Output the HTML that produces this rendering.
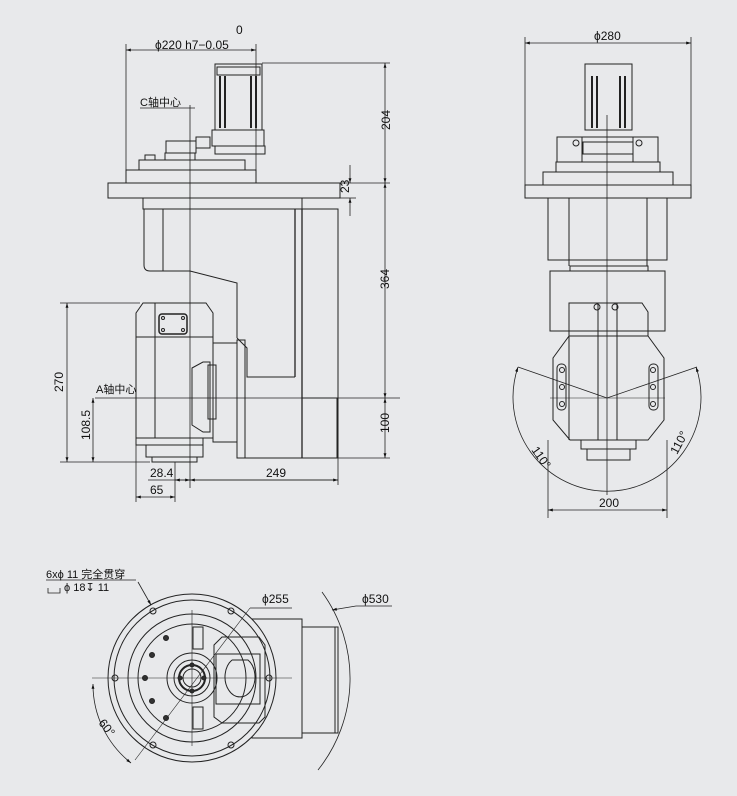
<!DOCTYPE html>
<html><head><meta charset="utf-8"><style>
html,body{margin:0;padding:0;background:#e8e9eb;}
svg{display:block;}
text{font-family:"Liberation Sans","Noto Sans CJK SC",sans-serif;fill:#111;}
</style></head><body>
<svg width="737" height="796" viewBox="0 0 737 796" xmlns="http://www.w3.org/2000/svg">
<defs>
<marker id="a" viewBox="0 0 10 10" refX="10" refY="5" markerWidth="8" markerHeight="6" orient="auto-start-reverse"><path d="M0,2 L10,5 L0,8 z" fill="#111"/></marker>
</defs>
<rect width="737" height="796" fill="#e8e9eb"/>
<g fill="none" stroke="#222" stroke-width="1">
<!-- ===== LEFT VIEW ===== -->
<line x1="126" y1="44" x2="126" y2="183" stroke-width="0.8"/>
<line x1="256" y1="44" x2="256" y2="183" stroke-width="0.8"/>
<line x1="126" y1="50" x2="256" y2="50" marker-start="url(#a)" marker-end="url(#a)" stroke-width="0.8"/>
<rect x="215" y="64" width="47" height="66"/>
<rect x="217" y="67" width="43" height="8"/>
<line x1="220" y1="76" x2="220" y2="128" stroke-width="2"/>
<line x1="225" y1="76" x2="225" y2="128" stroke-width="2"/>
<line x1="251" y1="76" x2="251" y2="128" stroke-width="2"/>
<line x1="256" y1="76" x2="256" y2="128" stroke-width="2"/>
<rect x="212" y="130" width="52" height="16"/>
<rect x="215" y="146" width="50" height="8"/>
<rect x="196" y="137" width="14" height="11"/>
<rect x="166" y="141" width="30" height="12"/>
<rect x="139" y="160" width="106" height="10"/>
<rect x="145" y="155" width="10" height="5"/>
<rect x="165" y="153" width="30" height="7"/>
<line x1="262" y1="63" x2="390" y2="63" stroke-width="0.8"/>
<line x1="140" y1="108" x2="195" y2="108" stroke-width="0.8"/>
<line x1="190" y1="105" x2="190" y2="488" stroke-width="0.8"/>
<rect x="126" y="170" width="130" height="13"/>
<rect x="108" y="183" width="232" height="15"/>
<line x1="340" y1="183" x2="390" y2="183" stroke-width="0.8"/>
<line x1="340" y1="198" x2="356" y2="198" stroke-width="0.8"/>
<line x1="385" y1="63" x2="385" y2="183" marker-start="url(#a)" marker-end="url(#a)" stroke-width="0.8"/>
<line x1="350" y1="165" x2="350" y2="183" marker-end="url(#a)" stroke-width="0.8"/>
<line x1="350" y1="216" x2="350" y2="198" marker-end="url(#a)" stroke-width="0.8"/>
<rect x="143" y="198" width="159" height="11"/>
<path d="M144,209 V265 Q144,271 150,271 H190 L237,283 V338"/>
<line x1="163" y1="209" x2="163" y2="271"/>
<path d="M237,338 L247,348 V377 H295"/>
<line x1="295" y1="209" x2="295" y2="377" stroke-width="1.3"/>
<line x1="302" y1="209" x2="302" y2="458" stroke-width="1.3"/>
<path d="M302,209 H338 V458"/>
<rect x="302" y="398" width="35" height="60"/>
<path d="M136,313 L143,303 H206 L213,313 V438 H136 Z"/>
<line x1="136" y1="337" x2="213" y2="337"/>
<line x1="155" y1="303" x2="155" y2="438"/>
<rect x="159" y="314" width="28" height="20" rx="3" stroke-width="1.5"/>
<circle cx="163" cy="318" r="1.5"/><circle cx="183" cy="318" r="1.5"/><circle cx="163" cy="330" r="1.5"/><circle cx="183" cy="330" r="1.5"/>
<rect x="136" y="438" width="67" height="7"/>
<rect x="146" y="445" width="57" height="12"/>
<rect x="152" y="457" width="45" height="5"/>
<rect x="213" y="343" width="24" height="99"/>
<rect x="237" y="340" width="8" height="118"/>
<path d="M192,368 L203,362 H210 V432 H203 L192,425 Z"/>
<rect x="208" y="365" width="8" height="54"/>
<line x1="245" y1="458" x2="338" y2="458"/>
<line x1="60" y1="303" x2="140" y2="303" stroke-width="0.8"/>
<line x1="60" y1="462" x2="150" y2="462" stroke-width="0.8"/>
<line x1="67" y1="303" x2="67" y2="462" marker-start="url(#a)" marker-end="url(#a)" stroke-width="0.8"/>
<line x1="95" y1="398" x2="400" y2="398" stroke-width="0.8"/>
<line x1="93" y1="398" x2="93" y2="462" marker-start="url(#a)" marker-end="url(#a)" stroke-width="0.8"/>
<line x1="385" y1="183" x2="385" y2="398" marker-start="url(#a)" marker-end="url(#a)" stroke-width="0.8"/>
<line x1="385" y1="398" x2="385" y2="458" marker-start="url(#a)" marker-end="url(#a)" stroke-width="0.8"/>
<line x1="338" y1="458" x2="390" y2="458" stroke-width="0.8"/>
<line x1="136" y1="445" x2="136" y2="502" stroke-width="0.8"/>
<line x1="175" y1="462" x2="175" y2="502" stroke-width="0.8"/>
<line x1="338" y1="458" x2="338" y2="485" stroke-width="0.8"/>
<line x1="148" y1="480" x2="338" y2="480" stroke-width="0.8"/>
<line x1="175" y1="480" x2="190" y2="480" marker-start="url(#a)" marker-end="url(#a)" stroke-width="0.8"/>
<line x1="190" y1="480" x2="338" y2="480" marker-start="url(#a)" marker-end="url(#a)" stroke-width="0.8"/>
<line x1="136" y1="497" x2="175" y2="497" marker-start="url(#a)" marker-end="url(#a)" stroke-width="0.8"/>

<!-- ===== RIGHT VIEW ===== -->
<line x1="525" y1="37" x2="525" y2="198" stroke-width="0.8"/>
<line x1="691" y1="37" x2="691" y2="198" stroke-width="0.8"/>
<line x1="525" y1="43" x2="691" y2="43" marker-start="url(#a)" marker-end="url(#a)" stroke-width="0.8"/>
<rect x="585" y="64" width="47" height="66"/>
<line x1="592" y1="76" x2="592" y2="128" stroke-width="2"/>
<line x1="597" y1="76" x2="597" y2="128" stroke-width="2"/>
<line x1="620" y1="76" x2="620" y2="128" stroke-width="2"/>
<line x1="625" y1="76" x2="625" y2="128" stroke-width="2"/>
<rect x="557" y="137" width="101" height="25"/>
<rect x="557" y="137" width="25" height="25"/><rect x="633" y="137" width="25" height="25"/>
<rect x="583" y="142" width="50" height="12"/>
<circle cx="576" cy="143" r="3"/><circle cx="639" cy="143" r="3"/>
<rect x="556" y="162" width="104" height="10"/>
<rect x="543" y="172" width="130" height="13"/>
<rect x="525" y="185" width="166" height="13"/>
<rect x="548" y="198" width="119" height="62"/>
<line x1="569" y1="198" x2="569" y2="266"/>
<line x1="647" y1="198" x2="647" y2="266"/>
<rect x="570" y="266" width="78" height="5"/>
<rect x="550" y="271" width="115" height="60"/>
<path d="M569,303 L574,303 L576,303 H642 L648,312 V336 L664,358 V420 L648,440 H570 L553,420 V358 L569,336 Z"/>
<line x1="569" y1="303" x2="569" y2="440"/>
<line x1="569" y1="336" x2="648" y2="336"/>
<line x1="598" y1="303" x2="598" y2="440"/>
<line x1="617" y1="303" x2="617" y2="440"/>
<circle cx="597" cy="307" r="3"/><circle cx="615" cy="307" r="3"/>
<rect x="557" y="364" width="9" height="46" rx="4"/>
<rect x="649" y="364" width="9" height="46" rx="4"/>
<circle cx="562" cy="370" r="2.5"/><circle cx="562" cy="387" r="2.5"/><circle cx="562" cy="404" r="2.5"/>
<circle cx="653" cy="370" r="2.5"/><circle cx="653" cy="387" r="2.5"/><circle cx="653" cy="404" r="2.5"/>
<rect x="581" y="440" width="55" height="9"/>
<rect x="587" y="449" width="43" height="11"/>
<line x1="607" y1="115" x2="607" y2="495" stroke-width="0.8"/>
<line x1="550" y1="398" x2="665" y2="398" stroke-width="0.6"/>
<line x1="518" y1="367" x2="607" y2="398" stroke-width="0.8"/>
<line x1="697" y1="367" x2="607" y2="398" stroke-width="0.8"/>
<path d="M518,367 A94,94 0 1,0 696,367" marker-start="url(#a)" marker-end="url(#a)" stroke-width="0.8"/>
<line x1="548" y1="440" x2="548" y2="518" stroke-width="0.8"/>
<line x1="667" y1="440" x2="667" y2="518" stroke-width="0.8"/>
<line x1="548" y1="510" x2="667" y2="510" marker-start="url(#a)" marker-end="url(#a)" stroke-width="0.8"/>

<!-- ===== BOTTOM VIEW ===== -->
<rect x="252" y="619" width="50" height="119"/>
<rect x="302" y="627" width="36" height="106"/>
<line x1="335" y1="627" x2="335" y2="733"/>
<circle cx="192" cy="678" r="84" fill="#e8e9eb"/>
<circle cx="192" cy="678" r="78"/>
<circle cx="192" cy="678" r="64"/>
<circle cx="192" cy="678" r="54"/>
<circle cx="192" cy="678" r="25"/>
<circle cx="192" cy="678" r="18"/>
<circle cx="192" cy="678" r="13" stroke-width="2"/>
<circle cx="192" cy="678" r="9"/>
<circle cx="115" cy="678" r="3"/><circle cx="269" cy="678" r="3"/>
<circle cx="153" cy="611" r="3"/><circle cx="231" cy="611" r="3"/>
<circle cx="153" cy="745" r="3"/><circle cx="231" cy="745" r="3"/>
<g fill="#333">
<circle cx="145" cy="678" r="2.5"/><circle cx="166" cy="638" r="2.5"/><circle cx="166" cy="718" r="2.5"/>
<circle cx="152" cy="655" r="2.5"/><circle cx="152" cy="701" r="2.5"/>
<circle cx="192" cy="665" r="2"/><circle cx="192" cy="691" r="2"/><circle cx="180" cy="678" r="2"/><circle cx="204" cy="678" r="2"/>
</g>
<path d="M214,645 L222,637 H259 L265,645 V717 L259,723 H222 L214,717 Z"/>
<rect x="216" y="654" width="44" height="50"/>
<path d="M232,660 H248 A15,20 0 1,1 232,660" />
<rect x="193" y="627" width="10" height="22"/><rect x="193" y="707" width="10" height="22"/>
<line x1="92" y1="678" x2="292" y2="678" stroke-width="0.6"/>
<line x1="192" y1="610" x2="192" y2="746" stroke-width="0.6"/>
<line x1="135" y1="760" x2="250" y2="608" stroke-width="0.6"/>
<path d="M93,684 A100,100 0 0,0 131,763" marker-start="url(#a)" marker-end="url(#a)" stroke-width="0.8"/>
<line x1="250" y1="608" x2="292" y2="608" stroke-width="0.8"/>
<path d="M322,592 A147,147 0 0,1 318,770" stroke-width="0.8"/>
<line x1="332" y1="610" x2="356" y2="606" marker-start="url(#a)" stroke-width="0.8"/>
<line x1="356" y1="606" x2="392" y2="606" stroke-width="0.8"/>
<line x1="46" y1="580" x2="136" y2="580" stroke-width="0.8"/>
<line x1="138" y1="582" x2="151" y2="605" marker-end="url(#a)" stroke-width="0.8"/>
<path d="M48,588 V593 H60 V588" stroke-width="0.8"/>
</g>
<g font-size="12">
<text x="155" y="49">ϕ220 h7−0.05</text>
<text x="236" y="34">0</text>
<text x="140" y="106" font-size="11">C轴中心</text>
<text x="96" y="393" font-size="11">A轴中心</text>
<text transform="translate(390,130) rotate(-90)">204</text>
<text transform="translate(349,193) rotate(-90)">23</text>
<text transform="translate(389,289) rotate(-90)">364</text>
<text transform="translate(389,433) rotate(-90)">100</text>
<text transform="translate(63,392) rotate(-90)">270</text>
<text transform="translate(90,440) rotate(-90)">108.5</text>
<text x="150" y="477">28.4</text>
<text x="266" y="477">249</text>
<text x="150" y="494">65</text>
<text x="594" y="40">ϕ280</text>
<text x="599" y="507">200</text>
<text transform="translate(531,450) rotate(55)">110°</text>
<text transform="translate(677,455) rotate(-62)">110°</text>
<text x="46" y="578" font-size="11">6xϕ 11 完全贯穿</text>
<text x="64" y="591" font-size="11">ϕ 18↧ 11</text>
<text x="262" y="603">ϕ255</text>
<text x="362" y="603">ϕ530</text>
<text transform="translate(98,723) rotate(52)">60°</text>
</g>
</svg>
</body></html>
